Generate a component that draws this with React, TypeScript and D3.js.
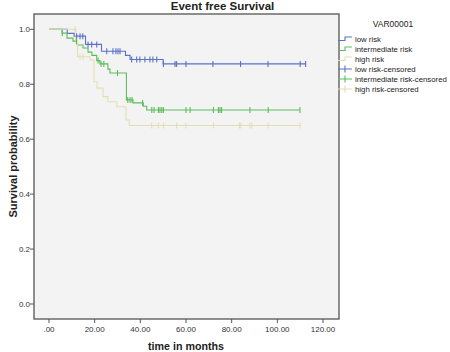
import React, { useEffect, useRef } from 'react';
import * as d3 from 'd3';

// Kaplan-Meier step data (months, survival)
const lowTimes = [0, 8, 11, 16, 23, 33.5, 35.5, 50];
const lowSurv = [1, 0.985, 0.975, 0.945, 0.92, 0.905, 0.89, 0.874];
const lowCensored = [12.1, 13.6, 14.8, 17.1, 18.7, 20.9, 25.3, 28.0, 29.3, 30.2, 31.1, 36.2, 38.4, 39.8, 42.0, 44.2, 45.5, 47.2, 50.1, 55.2, 55.9, 60.0, 71.8, 83.9, 95.9, 110, 112.4];

const midTimes = [0, 5.7, 7.9, 10.5, 12.3, 14.9, 17.1, 18.8, 20.9, 22.3, 25.8, 26.7, 33.9, 36.8, 41.3, 42.8];
const midSurv = [1, 0.986, 0.968, 0.957, 0.943, 0.932, 0.917, 0.905, 0.886, 0.874, 0.855, 0.841, 0.743, 0.732, 0.72, 0.706];
const midCensored = [5.8, 12, 21.5, 22.8, 24, 30, 34.5, 35.5, 36.4, 41, 45, 46, 47.9, 48.6, 49.4, 50.1, 60, 61.8, 72, 74.2, 74.9, 75.6, 88, 96, 109.9];

const highTimes = [0, 11.8, 12.5, 18, 19.7, 21, 23.7, 25.8, 29.7, 33.7, 35.2];
const highSurv = [1, 0.96, 0.9, 0.888, 0.809, 0.786, 0.755, 0.736, 0.718, 0.67, 0.65];
const highCensored = [11.4, 13.6, 14.9, 45, 47.9, 50.1, 55.9, 60, 72, 83.4, 84, 88, 88.8, 96, 110];

const xTicks = [0, 20, 40, 60, 80, 100, 120];
const xTickLabels = ['.00', '20.00', '40.00', '60.00', '80.00', '100.00', '120.00'];
const yTicks = [0, 0.2, 0.4, 0.6, 0.8, 1.0];

const legendLabels = ['low  risk', 'intermediate risk', 'high risk', 'low  risk-censored', 'intermediate risk-censored', 'high risk-censored'];
const colors = ['#5a72c8', '#5cbd5c', '#e4dfb2'];

const W = 450;
const H = 352;
const font = 'Arial, "Liberation Sans", sans-serif';

export default function App() {
    const svgRef = useRef<SVGSVGElement>(null);

    useEffect(() => {
        if (!svgRef.current) return;
        const svg = d3.select(svgRef.current);
        svg.selectAll('*').remove();

        const left = 34, right = 339, top = 14, bottom = 319;

        const x = d3.scaleLinear().domain([0, 120]).range([49, 323]);
        const y = d3.scaleLinear().domain([0, 1]).range([304, 29.3]);

        // plot background
        svg.append('rect')
            .attr('x', left).attr('y', top)
            .attr('width', right - left).attr('height', bottom - top)
            .attr('fill', '#f3f3f3');

        const groups = [
            { times: lowTimes, surv: lowSurv, cens: lowCensored },
            { times: midTimes, surv: midSurv, cens: midCensored },
            { times: highTimes, surv: highSurv, cens: highCensored },
        ];

        const line = d3.line<[number, number]>()
            .x(d => x(d[0]))
            .y(d => y(d[1]))
            .curve(d3.curveStepAfter);

        groups.forEach((g, i) => {
            const end = d3.max(g.cens) || 0;
            const pts: [number, number][] = g.times.map((t, k) => [t, g.surv[k]]);
            pts.push([end, g.surv[g.surv.length - 1]]);
            svg.append('path')
                .attr('d', line(pts))
                .attr('fill', 'none')
                .attr('stroke', colors[i])
                .attr('stroke-width', 1.1);
        });

        groups.forEach((g, i) => {
            const survAt = (t: number) => {
                const k = d3.bisectRight(g.times, t) - 1;
                return g.surv[Math.max(0, k)];
            };
            svg.append('g')
                .selectAll('line')
                .data(g.cens)
                .join('line')
                .attr('x1', d => x(d)).attr('x2', d => x(d))
                .attr('y1', d => y(survAt(d)) - 3)
                .attr('y2', d => y(survAt(d)) + 3)
                .attr('stroke', colors[i])
                .attr('stroke-width', 1.1);
        });

        // frame
        svg.append('rect')
            .attr('x', left).attr('y', top)
            .attr('width', right - left).attr('height', bottom - top)
            .attr('fill', 'none')
            .attr('stroke', '#555')
            .attr('stroke-width', 1.3);

        // y axis ticks
        const yAxis = svg.append('g').attr('font-family', font).attr('font-size', 8).attr('fill', '#333');
        yTicks.forEach(v => {
            yAxis.append('line')
                .attr('x1', left - 4).attr('x2', left)
                .attr('y1', y(v)).attr('y2', y(v))
                .attr('stroke', '#555');
            yAxis.append('text')
                .attr('x', left - 4).attr('y', y(v) + 3)
                .attr('text-anchor', 'end')
                .text(d3.format('.1f')(v));
        });

        // x axis ticks
        const xAxis = svg.append('g').attr('font-family', font).attr('font-size', 8).attr('fill', '#333');
        xTicks.forEach((v, k) => {
            xAxis.append('line')
                .attr('x1', x(v)).attr('x2', x(v))
                .attr('y1', bottom).attr('y2', bottom + 4)
                .attr('stroke', '#555');
            xAxis.append('text')
                .attr('x', x(v)).attr('y', bottom + 13)
                .attr('text-anchor', 'middle')
                .text(xTickLabels[k]);
        });

        // titles
        svg.append('text')
            .attr('x', 222.5).attr('y', 10)
            .attr('text-anchor', 'middle')
            .attr('font-family', font).attr('font-size', 11.5).attr('font-weight', 'bold')
            .attr('fill', '#222')
            .text('Event free Survival');

        svg.append('text')
            .attr('x', 186).attr('y', 349.5)
            .attr('text-anchor', 'middle')
            .attr('font-family', font).attr('font-size', 10.7).attr('font-weight', 'bold')
            .attr('fill', '#222')
            .text('time in months');

        svg.append('text')
            .attr('transform', `translate(16.5,${(top + bottom) / 2}) rotate(-90)`)
            .attr('text-anchor', 'middle')
            .attr('font-family', font).attr('font-size', 11).attr('font-weight', 'bold')
            .attr('fill', '#222')
            .text('Survival probability');

        // legend
        const lg = svg.append('g').attr('font-family', font).attr('font-size', 7.8).attr('fill', '#222');
        lg.append('text')
            .attr('x', 393).attr('y', 27)
            .attr('text-anchor', 'middle')
            .attr('font-size', 8.5)
            .text('VAR00001');
        legendLabels.forEach((lab, k) => {
            const cy = 39 + k * 10;
            const c = colors[k % 3];
            if (k < 3) {
                lg.append('path')
                    .attr('d', `M338,${cy + 1.5}H345V${cy - 2}H352`)
                    .attr('fill', 'none')
                    .attr('stroke', c)
                    .attr('stroke-width', 1.1);
            } else {
                lg.append('path')
                    .attr('d', `M338,${cy}H352M345,${cy - 3.5}V${cy + 3.5}`)
                    .attr('fill', 'none')
                    .attr('stroke', c)
                    .attr('stroke-width', 1.1);
            }
            lg.append('text')
                .attr('x', 355).attr('y', cy + 2.8)
                .text(lab);
        });
    }, []);

    return (
        <div style={{ position: 'absolute', left: 0, top: 0, background: '#fff' }}>
            <svg ref={svgRef} width={W} height={H} style={{ display: 'block' }} />
        </div>
    );
}
